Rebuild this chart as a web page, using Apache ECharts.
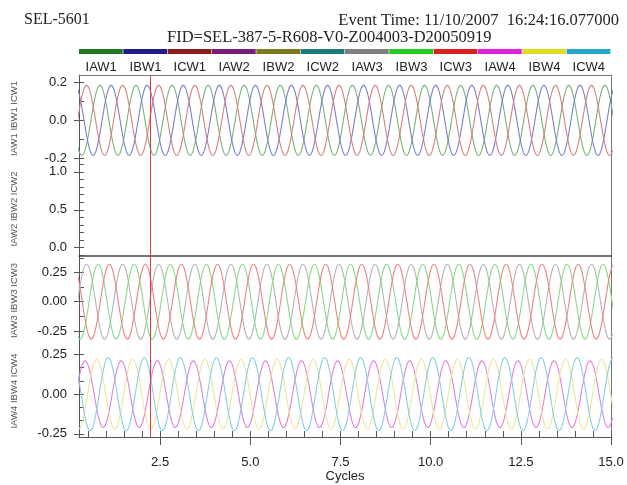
<!DOCTYPE html>
<html>
<head>
<meta charset="utf-8">
<title>SEL-5601 Event</title>
<script src="https://cdn.jsdelivr.net/npm/echarts@6/dist/echarts.min.js"></script>
<style>
  html, body { margin: 0; padding: 0; background: #fff; }
  #chart { width: 627px; height: 485px; }
</style>
</head>
<body>
<div id="chart"></div>
<script>
// ==================== data ====================

const channelNames = ['IAW1', 'IBW1', 'ICW1', 'IAW2', 'IBW2', 'ICW2',
                      'IAW3', 'IBW3', 'ICW3', 'IAW4', 'IBW4', 'ICW4'];
// colour bar above each channel name
const legendColors = ['#1f7a1f', '#1c1c8a', '#8a1c1c', '#7a1c7a', '#7a7a1c', '#1c7a7a',
                      '#808080', '#22cc22', '#dd2020', '#dd22dd', '#dddd22', '#22a8c8'];
// the traces come out lighter than the bars
const traceColors  = ['#78b478', '#7e7ed0', '#d88080', '#a060a0', '#a0a060', '#60a0a0',
                      '#b4b4b4', '#84dc84', '#ee8282', '#e27ee2', '#ece698', '#86d0e4'];
// which panel each channel is drawn in
const channelPanel = [0, 0, 0, 1, 1, 1, 2, 2, 2, 3, 3, 3];
// peak current of each channel (panel 2 is flat)
const channelPeak = [0.185, 0.185, 0.185, 0, 0, 0, 0.32, 0.32, 0.32, 0.21, 0.22, 0.23];
// position of the first positive peak, in cycles
const channelPeakAt = [0.83, 0.14, 0.46, 0, 0, 0, 0.46, 0.78, 0.09, 0.42, 0.74, 0.06];
// one normalised cycle starting at the peak (24 samples / cycle)
const cycleShape = [1, 0.966, 0.866, 0.707, 0.5, 0.259, 0, -0.259, -0.5, -0.707, -0.866, -0.966,
                    -1, -0.966, -0.866, -0.707, -0.5, -0.259, 0, 0.259, 0.5, 0.707, 0.866, 0.966];

// y scales of the four panels
const panelMin = [-0.22, -0.11, -0.37, -0.27];
const panelMax = [0.24, 1.13, 0.39, 0.31];
const panelTicks = [[-0.2, 0, 0.2], [0, 0.5, 1.0], [-0.25, 0, 0.25], [-0.25, 0, 0.25]];
const panelDecimals = [1, 1, 2, 2];
const panelMinorStep = [0.1, 0.1, 0.125, 0.0833];

// x scale
const X_MIN = 0.25;
const X_MAX = 15.0;
const xTicks = [2.5, 5.0, 7.5, 10.0, 12.5, 15.0];
const xMinorStep = 0.5;
const cursorAt = 2.22;

// ==================== layout ====================

const PLOT_LEFT = 79;
const PLOT_RIGHT = 16;
const panelTop = [75, 162, 256, 345];
const panelHeight = [87, 94, 89, 92];
const AXIS_COLOR = '#555';
const SANS = 'Liberation Sans, Arial, sans-serif';
const SERIF = 'Liberation Serif, Times New Roman, serif';

function stepValues(min, max, step) {
    const out = [];
    const first = Math.ceil(min / step - 1e-6);
    for (let k = first; k * step <= max + 1e-6; k++) {
        out.push(+(k * step).toFixed(4));
    }
    return out;
}

// repeat the sampled cycle across the x range, aligned on the channel's peak
function buildWave(ch) {
    const n = cycleShape.length;
    const pts = [];
    for (let k = -2 * n; ; k++) {
        const x = channelPeakAt[ch] + k / n;
        if (x > X_MAX + 2 / n) break;
        if (x < X_MIN - 2 / n) continue;
        pts.push([x, channelPeak[ch] * cycleShape[((k % n) + n) % n]]);
    }
    return pts;
}

const grids = [];
const xAxes = [];
const yAxes = [];
const series = [];
const mainX = [];
const mainY = [];

panelTop.forEach((top, p) => {
    grids.push({ left: PLOT_LEFT, right: PLOT_RIGHT, top: top, height: panelHeight[p] });
    const last = p === panelTop.length - 1;

    // main x axis of the panel
    mainX[p] = xAxes.length;
    xAxes.push({
        type: 'value', gridIndex: p, min: X_MIN, max: X_MAX,
        position: 'bottom',
        name: last ? 'Cycles' : '',
        nameLocation: 'middle', nameGap: 33,
        nameTextStyle: { fontFamily: SANS, fontSize: 13, color: '#222' },
        axisLine: { show: last || p === 1, onZero: false,
                    lineStyle: { color: p === 1 ? '#444' : AXIS_COLOR, width: p === 1 ? 1.5 : 1 } },
        axisTick: { show: last, length: 8, customValues: xTicks, lineStyle: { color: AXIS_COLOR } },
        axisLabel: {
            show: last, margin: 19, customValues: xTicks,
            fontFamily: SANS, fontSize: 13, color: '#222',
            formatter: v => v.toFixed(1)
        },
        splitLine: { show: false }
    });
    if (p === 0) {
        // top frame
        xAxes.push({
            type: 'value', gridIndex: p, min: X_MIN, max: X_MAX, position: 'top',
            axisLine: { show: true, onZero: false, lineStyle: { color: '#777' } },
            axisTick: { show: false }, axisLabel: { show: false }, splitLine: { show: false }
        });
    }
    if (last) {
        // minor ticks pointing into the plot
        xAxes.push({
            type: 'value', gridIndex: p, min: X_MIN, max: X_MAX, position: 'bottom',
            axisLine: { show: false, onZero: false },
            axisTick: { show: true, inside: true, length: 6,
                        customValues: stepValues(X_MIN, X_MAX, xMinorStep),
                        lineStyle: { color: AXIS_COLOR } },
            axisLabel: { show: false }, splitLine: { show: false }
        });
    }

    // main y axis with the channel names
    mainY[p] = yAxes.length;
    yAxes.push({
        type: 'value', gridIndex: p, min: panelMin[p], max: panelMax[p], position: 'left',
        name: channelNames.filter((n, i) => channelPanel[i] === p).join(' '),
        nameLocation: 'middle', nameRotate: 90, nameGap: 60,
        nameTextStyle: { fontFamily: SANS, fontSize: 9.5, color: '#555' },
        axisLine: { show: true, onZero: false, lineStyle: { color: AXIS_COLOR } },
        axisTick: { show: true, length: 5, customValues: panelTicks[p], lineStyle: { color: AXIS_COLOR } },
        axisLabel: {
            margin: 12, customValues: panelTicks[p],
            fontFamily: SANS, fontSize: 13, color: '#222',
            formatter: v => v.toFixed(panelDecimals[p])
        },
        splitLine: { show: false }
    });
    // minor ticks inside
    yAxes.push({
        type: 'value', gridIndex: p, min: panelMin[p], max: panelMax[p], position: 'left',
        axisLine: { show: false, onZero: false },
        axisTick: { show: true, inside: true, length: 5,
                    customValues: stepValues(panelMin[p], panelMax[p], panelMinorStep[p]),
                    lineStyle: { color: AXIS_COLOR } },
        axisLabel: { show: false }, splitLine: { show: false }
    });
    // right frame
    yAxes.push({
        type: 'value', gridIndex: p, min: panelMin[p], max: panelMax[p], position: 'right',
        axisLine: { show: true, onZero: false, lineStyle: { color: '#777' } },
        axisTick: { show: false }, axisLabel: { show: false }, splitLine: { show: false }
    });

    // red event cursor
    series.push({
        type: 'line', name: 'cursor' + p, xAxisIndex: mainX[p], yAxisIndex: mainY[p],
        data: [], silent: true,
        markLine: {
            silent: true, symbol: 'none', label: { show: false },
            lineStyle: { color: '#e23a3a', width: 1, type: 'solid' },
            data: [{ xAxis: cursorAt }]
        }
    });
});

channelNames.forEach((name, ch) => {
    if (!channelPeak[ch]) return;
    const p = channelPanel[ch];
    series.push({
        type: 'line', name: name,
        xAxisIndex: mainX[p], yAxisIndex: mainY[p],
        data: buildWave(ch),
        smooth: 0.5, showSymbol: false, silent: true,
        lineStyle: { color: traceColors[ch], width: 1.1 },
        z: 1
    });
});

// colour bars and channel names across the top
const LEG_LEFT = 79;
const LEG_WIDTH = 532;
const segW = LEG_WIDTH / channelNames.length;
const legendGraphics = [];
channelNames.forEach((name, i) => {
    legendGraphics.push({
        type: 'rect', left: LEG_LEFT + i * segW, top: 49,
        shape: { width: segW - 0.6, height: 5 },
        style: { fill: legendColors[i] }
    });
    legendGraphics.push({
        type: 'text', x: LEG_LEFT + (i + 0.5) * segW, y: 67,
        style: {
            text: name, fill: '#222', font: '13px ' + SANS,
            textAlign: 'center', textVerticalAlign: 'middle'
        }
    });
});

const chart = echarts.init(document.getElementById('chart'), null, { renderer: 'canvas' });
chart.setOption({
    backgroundColor: '#fff',
    animation: false,
    title: [
        { text: 'SEL-5601', left: 19, top: 7,
          textStyle: { fontFamily: SERIF, fontSize: 16, fontWeight: 'normal', color: '#222' } },
        { text: 'Event Time: 11/10/2007  16:24:16.077000', right: 3, top: 7,
          textStyle: { fontFamily: SERIF, fontSize: 16.5, fontWeight: 'normal', color: '#222' } },
        { text: 'FID=SEL-387-5-R608-V0-Z004003-D20050919', left: 162, top: 24,
          textStyle: { fontFamily: SERIF, fontSize: 16.5, fontWeight: 'normal', color: '#222' } }
    ],
    grid: grids,
    xAxis: xAxes,
    yAxis: yAxes,
    series: series,
    graphic: legendGraphics
});
</script>
</body>
</html>
